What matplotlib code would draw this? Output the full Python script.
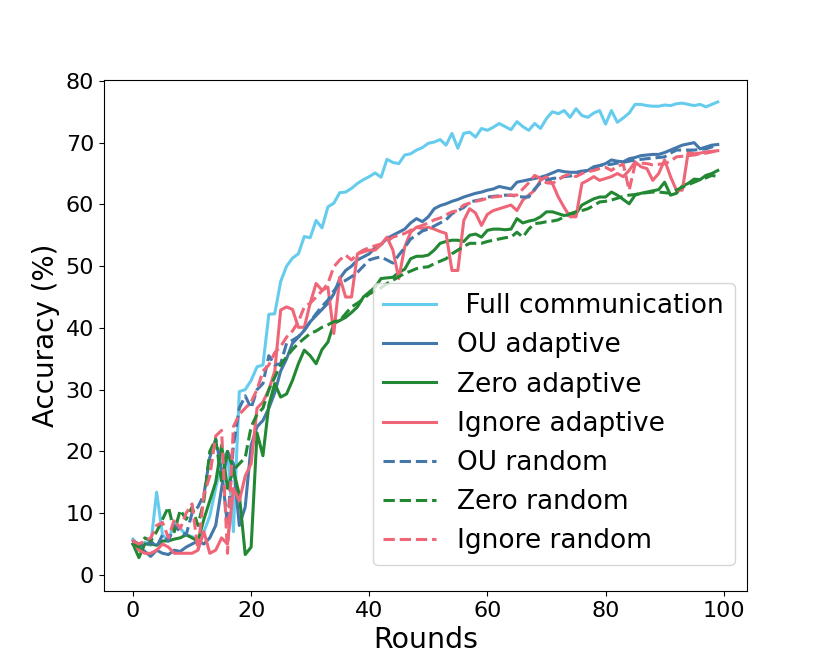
import matplotlib
matplotlib.use("Agg")
import matplotlib.pyplot as plt
import numpy as np

rounds = list(range(100))

full_comm = [5.8, 4.6, 5.3, 4.8, 13.4, 6.5, 5.5, 8.5, 7.5, 6.5,
             6.2, 5.5, 7.0, 9.5, 14.0, 18.5, 20.0, 7.0, 29.7, 30.0,
             31.5, 33.7, 34.0, 42.2, 42.3, 47.5, 50.0, 51.3, 52.0, 54.8,
             54.6, 57.4, 56.2, 59.6, 60.2, 61.9, 62.0, 62.6, 63.4, 64.0,
             64.5, 65.1, 64.4, 67.3, 66.8, 66.6, 68.0, 68.2, 68.8, 69.2,
             69.9, 70.1, 70.5, 69.6, 71.5, 69.1, 71.5, 71.7, 70.9, 72.3,
             72.0, 72.5, 73.1, 72.6, 72.1, 73.4, 72.6, 72.0, 73.1, 72.3,
             73.9, 75.0, 74.7, 75.2, 74.1, 75.5, 74.4, 74.1, 74.8, 75.2,
             73.0, 75.2, 73.3, 74.0, 74.8, 76.2, 76.2, 76.0, 75.9, 75.9,
             76.1, 76.0, 76.3, 76.4, 76.2, 76.0, 76.2, 75.8, 76.2, 76.6]

ou_adaptive = [5.0, 4.5, 3.8, 3.0, 4.0, 3.5, 3.3, 4.0, 3.8, 4.5,
               5.0, 5.5, 5.0, 6.0, 8.0, 14.0, 20.0, 18.0, 8.0, 11.0,
               21.0, 24.0, 25.0, 27.0, 29.5, 33.0, 35.0, 37.5, 38.5, 39.6,
               41.0, 42.0, 43.0, 44.0, 45.5, 48.0, 49.3, 50.0, 51.0, 51.5,
               52.0, 53.0, 53.5, 54.5, 55.0, 55.5, 56.0, 57.0, 57.7, 57.2,
               58.0, 59.3, 59.8, 60.1, 60.5, 60.8, 61.2, 61.5, 61.8, 62.0,
               62.3, 62.5, 62.9, 62.7, 62.5, 63.6, 63.8, 64.0, 64.2, 64.4,
               64.7, 65.1, 65.5, 65.3, 65.2, 65.2, 65.4, 65.5, 66.1, 66.3,
               66.6, 67.2, 67.0, 66.9, 67.4, 67.6, 67.9, 68.0, 68.1, 68.1,
               68.4, 68.8, 69.2, 69.6, 69.8, 70.0, 69.0, 69.3, 69.6, 69.7]

zero_adaptive = [5.0, 2.8, 5.0, 5.0, 4.8, 5.5, 5.5, 5.8, 6.0, 6.5,
                 6.0, 5.5, 9.0, 12.0, 15.0, 21.0, 14.0, 17.0, 13.0, 3.3,
                 4.5, 23.0, 19.3, 27.5, 31.0, 28.8, 29.3, 31.5, 34.2, 36.4,
                 35.5, 34.2, 36.5, 37.7, 40.7, 41.2, 41.7, 42.5, 43.4, 45.0,
                 45.8, 46.6, 48.0, 48.1, 48.2, 49.0, 49.5, 51.2, 51.6, 51.6,
                 51.8, 52.6, 53.7, 54.0, 54.2, 54.2, 54.0, 55.0, 55.2, 54.7,
                 55.8, 56.0, 56.0, 55.9, 56.0, 57.7, 57.0, 57.3, 57.5, 58.0,
                 58.8, 58.8, 58.5, 58.2, 58.4, 58.5, 59.9, 60.4, 60.9, 61.2,
                 61.2, 62.0, 61.5, 60.8, 60.1, 61.5, 61.8, 62.0, 62.2, 62.4,
                 63.6, 61.5, 61.8, 63.0, 63.4, 64.1, 64.0, 64.7, 65.0, 65.5]

ignore_adaptive = [5.5, 4.0, 3.5, 3.5, 4.0, 5.0, 4.5, 3.5, 3.5, 3.5,
                   3.5, 4.0, 7.0, 3.5, 4.0, 6.0, 5.0, 14.0, 12.0, 16.0,
                   18.0, 27.0, 28.0, 30.0, 33.0, 42.9, 43.4, 43.0, 40.1, 40.1,
                   44.0, 47.2, 46.1, 46.6, 39.1, 48.2, 45.0, 45.0, 52.0, 52.3,
                   52.6, 52.6, 53.5, 54.7, 52.6, 48.0, 53.1, 55.5, 56.3, 56.1,
                   56.3, 56.0, 55.6, 55.3, 49.3, 49.3, 57.4, 59.3, 58.6, 56.6,
                   58.4, 59.0, 59.3, 59.6, 59.9, 59.0, 60.7, 61.5, 62.3, 63.9,
                   64.5, 63.4, 61.2, 59.5, 58.0, 58.0, 63.4, 63.9, 64.5, 63.9,
                   64.2, 64.5, 65.0, 64.5, 65.5, 66.9, 66.1, 65.8, 63.9, 65.0,
                   67.2, 64.5, 62.3, 62.3, 68.5, 68.2, 68.3, 68.5, 68.6, 68.7]

ou_random = [5.5, 5.0, 4.5, 5.5, 4.5, 6.5, 5.5, 8.0, 7.0, 6.5,
             10.0, 11.0, 13.0, 19.0, 22.0, 17.0, 8.0, 21.0, 27.0, 29.0,
             27.0, 30.0, 31.0, 35.5, 34.0, 34.2, 37.5, 38.0, 38.6, 39.6,
             41.0, 42.3, 43.5, 44.5, 46.0, 47.2, 47.7, 48.3, 49.0, 50.0,
             51.0, 51.3, 51.5, 51.0, 50.5, 51.8, 53.0, 54.4, 55.0, 55.7,
             56.0, 56.5, 57.0, 57.5, 58.5, 59.0, 59.5, 60.4, 60.6, 60.8,
             61.2, 61.3, 61.4, 61.5, 61.5, 61.3, 61.2, 61.2, 62.5, 63.5,
             63.9, 64.2, 64.3, 64.5, 64.6, 64.8, 65.2, 65.5, 65.8, 66.3,
             66.4, 66.5, 66.7, 66.8, 67.0, 67.2, 67.3, 67.4, 67.5, 67.6,
             67.7, 68.3, 68.8, 68.8, 68.8, 68.8, 68.9, 69.0, 69.3, 69.7]

zero_random = [5.0, 4.5, 6.0, 5.5, 7.0, 9.0, 11.0, 7.0, 10.5, 9.0,
               11.0, 8.0, 12.0, 20.0, 22.0, 15.0, 20.0, 17.0, 18.0, 19.0,
               24.0, 26.0, 27.0, 30.0, 32.0, 34.0, 35.3, 36.5, 37.5, 38.3,
               39.1, 39.5, 40.1, 40.5, 41.0, 41.2, 42.3, 43.4, 44.0, 44.7,
               45.5, 46.0, 46.5, 47.2, 47.7, 48.3, 48.8, 49.2, 49.6, 49.8,
               49.9, 50.4, 50.8, 51.2, 52.0, 52.6, 53.2, 53.7, 53.7, 53.7,
               54.0, 54.2, 54.4, 54.6, 54.7, 55.5, 54.7, 56.0, 56.9, 57.0,
               57.2, 57.3, 57.5, 58.0, 58.5, 58.8, 59.0, 59.3, 59.8, 60.4,
               60.5, 60.7, 61.0, 61.3, 61.5, 61.6, 61.8, 61.9, 62.0, 62.0,
               61.9, 61.8, 62.3, 62.8, 63.2, 63.6, 64.0, 64.3, 64.7, 64.5]

ignore_random = [5.5, 5.0, 5.5, 6.0, 8.0, 8.5, 6.0, 9.0, 7.5, 10.0,
                 11.5, 4.0, 13.0, 16.0, 22.5, 23.4, 3.5, 24.0, 26.0, 27.0,
                 28.0, 30.0, 33.0, 34.0, 36.0, 37.0, 38.5, 39.5, 41.0, 43.4,
                 44.0, 45.0, 46.0, 47.2, 49.9, 51.0, 51.8, 51.0, 52.0, 52.6,
                 53.0, 53.3, 53.6, 54.0, 54.7, 55.0, 55.3, 55.8, 56.3, 56.6,
                 57.0, 57.5, 57.8, 58.3, 58.8, 59.0, 59.9, 60.2, 60.5, 60.7,
                 61.0, 61.2, 61.3, 61.4, 61.5, 61.5, 62.5, 63.5, 64.7, 64.2,
                 63.5, 63.4, 64.0, 64.6, 64.9, 64.5, 65.0, 65.3, 65.5, 65.8,
                 66.0, 65.5, 66.2, 66.5, 62.3, 66.5, 66.7, 66.6, 66.4, 66.5,
                 66.6, 67.0, 67.7, 67.8, 67.9, 68.0, 68.2, 68.3, 68.5, 68.7]

labels = [" Full communication", "OU adaptive", "Zero adaptive", "Ignore adaptive",
          "OU random", "Zero random", "Ignore random"]

series = [full_comm, ou_adaptive, zero_adaptive, ignore_adaptive,
          ou_random, zero_random, ignore_random]
colors = ["#66CCEE", "#4477AA", "#228833", "#EE6677",
          "#4477AA", "#228833", "#EE6677"]
styles = ["-", "-", "-", "-", "--", "--", "--"]

fig = plt.figure(figsize=(8.3, 6.64), dpi=100)
ax = fig.add_subplot(111)

for ys, lab, c, ls in zip(series, labels, colors, styles):
    ax.plot(rounds, ys, color=c, linestyle=ls, linewidth=2.2, label=lab)

ax.set_ylim(-2.6, 80.2)
ax.set_yticks([0, 10, 20, 30, 40, 50, 60, 70, 80])
ax.set_xticks([0, 20, 40, 60, 80, 100])
ax.tick_params(labelsize=16)
ax.set_xlabel("Rounds", fontsize=20.5)
ax.set_ylabel("Accuracy (%)", fontsize=20)

ax.legend(fontsize=19, loc="lower right", bbox_to_anchor=(0.9806, 0.0508),
          borderaxespad=0)

fig.savefig("out.png", dpi=100)
